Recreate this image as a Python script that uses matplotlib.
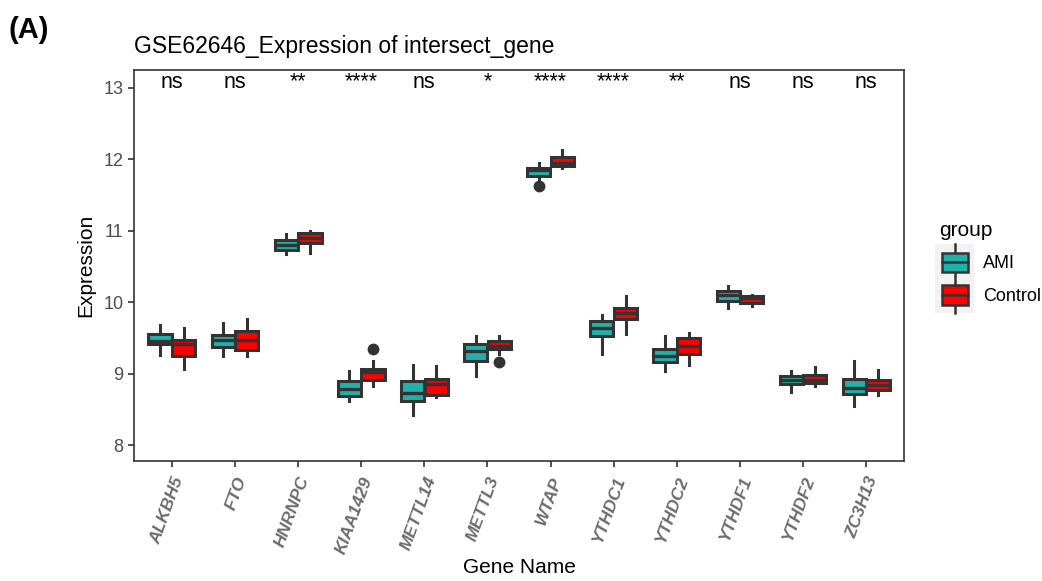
import matplotlib.pyplot as plt
import matplotlib.patches as mpatches
from matplotlib.lines import Line2D
from matplotlib.legend_handler import HandlerBase

plt.rcParams['font.family'] = ['Liberation Sans', 'DejaVu Sans']

genes = ['ALKBH5', 'FTO', 'HNRNPC', 'KIAA1429', 'METTL14', 'METTL3',
         'WTAP', 'YTHDC1', 'YTHDC2', 'YTHDF1', 'YTHDF2', 'ZC3H13']
signif = ['ns', 'ns', '**', '****', 'ns', '*', '****', '****', '**', 'ns', 'ns', 'ns']

# five-number summaries: (low whisker, q1, median, q3, high whisker)
ami_stats = [
    (9.26, 9.41, 9.46, 9.55, 9.68),
    (9.24, 9.37, 9.47, 9.54, 9.70),
    (10.67, 10.73, 10.80, 10.87, 10.95),
    (8.62, 8.69, 8.79, 8.90, 9.03),
    (8.42, 8.62, 8.73, 8.89, 9.12),
    (8.97, 9.17, 9.32, 9.42, 9.52),
    (11.71, 11.77, 11.85, 11.88, 11.94),
    (9.28, 9.52, 9.64, 9.74, 9.82),
    (9.03, 9.16, 9.25, 9.35, 9.52),
    (9.91, 10.01, 10.10, 10.15, 10.22),
    (8.74, 8.85, 8.91, 8.97, 9.04),
    (8.54, 8.72, 8.80, 8.92, 9.18),
]
ctrl_stats = [
    (9.07, 9.24, 9.42, 9.47, 9.64),
    (9.24, 9.33, 9.47, 9.60, 9.76),
    (10.69, 10.82, 10.90, 10.96, 10.99),
    (8.83, 8.91, 9.02, 9.07, 9.18),
    (8.67, 8.70, 8.86, 8.92, 9.11),
    (9.28, 9.34, 9.39, 9.46, 9.52),
    (11.88, 11.91, 11.95, 12.03, 12.12),
    (9.55, 9.76, 9.84, 9.92, 10.08),
    (9.12, 9.28, 9.39, 9.49, 9.57),
    (9.95, 9.99, 10.05, 10.09, 10.10),
    (8.83, 8.87, 8.91, 8.98, 9.09),
    (8.70, 8.77, 8.84, 8.91, 9.05),
]
ami_outliers = {'WTAP': [11.62]}
ctrl_outliers = {'KIAA1429': [9.34], 'METTL3': [9.16]}

groups = ['AMI', 'Control']
colors = ['#20B2AA', '#FF0000']
dark = '#333333'


def to_bxp(stats, outliers):
    out = []
    for g, (lo, q1, med, q3, hi) in zip(genes, stats):
        out.append(dict(whislo=lo, q1=q1, med=med, q3=q3, whishi=hi,
                        fliers=outliers.get(g, [])))
    return out


fig = plt.figure(figsize=(10.42, 5.81), dpi=100)
ax = fig.add_axes([0.1286, 0.207, 0.7390, 0.673])

xs = list(range(1, len(genes) + 1))
bw = 0.375
for k, (stats, outl) in enumerate([(ami_stats, ami_outliers), (ctrl_stats, ctrl_outliers)]):
    pos = [x + (k - 0.5) * bw for x in xs]
    ax.bxp(to_bxp(stats, outl), positions=pos, widths=bw * 0.98, patch_artist=True,
           boxprops=dict(facecolor=colors[k], edgecolor=dark, linewidth=2.2),
           medianprops=dict(color=dark, linewidth=2.4),
           whiskerprops=dict(color=dark, linewidth=2.2),
           capprops=dict(linewidth=0),
           flierprops=dict(marker='o', markerfacecolor=dark, markeredgecolor=dark,
                           markersize=7.5))

for x, s in zip(xs, signif):
    ax.text(x, 13.0, s, ha='center', va='baseline', fontsize=15.5, color='black')

ax.set_xlim(0.4, len(genes) + 0.6)
ax.set_ylim(7.78, 13.25)
ax.set_yticks([8, 9, 10, 11, 12, 13])
ax.set_xticks(xs)
ax.set_xticklabels(genes, rotation=70, ha='right', va='top', rotation_mode='anchor',
                   fontsize=12.5, fontweight='bold', fontstyle='italic', color='#6b6b6b')
ax.tick_params(axis='y', labelsize=13, labelcolor='#4d4d4d', length=4, width=1.2, color='#333333')
ax.tick_params(axis='x', length=4, width=1.2, color='#333333', pad=6)
for sp in ax.spines.values():
    sp.set_linewidth(1.2)
    sp.set_color('#333333')

ax.set_ylabel('Expression', fontsize=15, labelpad=6)
ax.set_xlabel('Gene Name', fontsize=15)
ax.xaxis.set_label_coords(0.5, -0.248)
ax.set_title('GSE62646_Expression of intersect_gene', fontsize=16.5, loc='left', pad=12)
fig.text(0.008, 0.935, '(A)', fontsize=21, fontweight='bold')


class BoxHandler(HandlerBase):
    def create_artists(self, legend, orig_handle, xdescent, ydescent, width, height, fontsize, trans):
        bg = mpatches.Rectangle((-xdescent - 3, -ydescent - 6), width + 6, height + 12,
                                facecolor='#f2f2f2', edgecolor='none', transform=trans)
        x0 = -xdescent + width * 0.08
        w = width * 0.84
        y0 = -ydescent
        box = mpatches.Rectangle((x0, y0), w, height, facecolor=orig_handle.get_facecolor(),
                                 edgecolor=dark, linewidth=1.8, transform=trans)
        cx = x0 + w / 2
        wl = Line2D([cx, cx], [y0 - 6, y0 + height + 6], color=dark, linewidth=1.8, transform=trans)
        med = Line2D([x0, x0 + w], [y0 + height / 2] * 2, color=dark, linewidth=1.8, transform=trans)
        return [bg, wl, box, med]


handles = [mpatches.Patch(facecolor=c) for c in colors]
leg = ax.legend(handles, groups, title='group', loc='upper left', bbox_to_anchor=(1.025, 0.655),
                frameon=False, fontsize=13, title_fontsize=15, handler_map={mpatches.Patch: BoxHandler()},
                handlelength=1.7, handleheight=1.3, labelspacing=0.7, handletextpad=0.7)
leg._legend_box.align = 'left'

fig.savefig('out.png', dpi=100)
